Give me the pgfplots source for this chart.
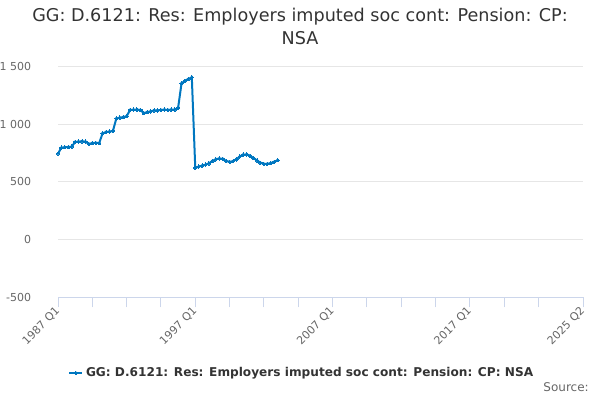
\documentclass[border=0pt]{standalone}
\usepackage{fontspec}
\setmainfont{DejaVu Sans}
\usepackage{pgfplots}
\pgfplotsset{compat=1.18}
\definecolor{lineblue}{RGB}{0,119,192}
\definecolor{gridgray}{HTML}{E6E6E6}
\definecolor{axisblue}{HTML}{CCD6EB}
\definecolor{titlegray}{HTML}{333333}
\definecolor{labelgray}{HTML}{666666}
\begin{document}
\begin{tikzpicture}
\useasboundingbox (0pt,0pt) rectangle (450pt,300pt);
\node[font=\fontsize{13.2pt}{15pt}\selectfont, text=titlegray, anchor=base] at (225pt,283.5pt) {GG: D.6121: Res: Employers imputed soc cont: Pension: CP:};
\node[font=\fontsize{13.2pt}{15pt}\selectfont, text=titlegray, anchor=base] at (225pt,266.25pt) {NSA};
\node[font=\fontsize{9pt}{10pt}\selectfont, text=labelgray, anchor=base east, inner sep=0] at (441.75pt,6.4pt) {Source:};
\begin{axis}[
  at={(43.5pt,77.025pt)}, anchor=south west,
  scale only axis, width=393.75pt, height=173.25pt,
  xmin=1987, xmax=2025.25, ymin=-500, ymax=1500,
  axis x line*=bottom, axis y line*=left,
  x axis line style={draw=axisblue, line width=0.75pt},
  y axis line style={draw=none},
  xtick={1987,1989.5,1992,1994.5,1997,1999.5,2002,2004.5,2007,2009.5,2012,2014.5,2017,2019.5,2022,2025.25},
  xticklabels={1987 Q1,,,,1997 Q1,,,,2007 Q1,,,,2017 Q1,,,2025 Q2},
  ytick={-500,0,500,1000,1500},
  yticklabels={-500,0,500,1 000,1 500},
  ymajorgrids, grid style={draw=gridgray, line width=0.75pt},
  tick align=outside, major tick length=7.5pt,
  xtick style={draw=axisblue, line width=0.75pt},
  ytick style={draw=none},
  xticklabel style={rotate=45, anchor=east, font=\fontsize{8.25pt}{10pt}\selectfont, text=labelgray, inner sep=1pt, yshift=-1pt},
  yticklabel style={anchor=east, font=\fontsize{8.25pt}{10pt}\selectfont, text=labelgray, inner sep=0pt, xshift=-12.5pt},
  legend style={at={(rel axis cs:0.465,-0.328)}, anchor=center, draw=none, fill=none,
    font=\fontsize{9.1pt}{11pt}\selectfont\bfseries, text=titlegray},
  legend image code/.code={\draw[mark repeat=2,mark phase=2,#1] plot coordinates {(0cm,0cm) (0.17cm,0cm) (0.34cm,0cm)};},
]
\addplot[color=lineblue, line width=1.5pt, mark=*, mark size=1.3pt, mark options={line width=0pt}] table[x=x,y=y] {
x y
1987.00 745
1987.25 795
1987.50 800
1987.75 800
1988.00 805
1988.25 845
1988.50 848
1988.75 850
1989.00 848
1989.25 828
1989.50 835
1989.75 838
1990.00 835
1990.25 920
1990.50 930
1990.75 935
1991.00 940
1991.25 1048
1991.50 1055
1991.75 1060
1992.00 1068
1992.25 1122
1992.50 1124
1992.75 1125
1993.00 1122
1993.25 1095
1993.50 1103
1993.75 1110
1994.00 1118
1994.25 1118
1994.50 1122
1994.75 1125
1995.00 1122
1995.25 1125
1995.50 1125
1995.75 1140
1996.00 1352
1996.25 1375
1996.50 1390
1996.75 1404
1997.00 620
1997.25 632
1997.50 640
1997.75 648
1998.00 660
1998.25 680
1998.50 695
1998.75 702
1999.00 698
1999.25 680
1999.50 673
1999.75 678
2000.00 695
2000.25 720
2000.50 735
2000.75 737
2001.00 725
2001.25 705
2001.50 685
2001.75 665
2002.00 655
2002.25 655
2002.50 662
2002.75 672
2003.00 687
};
\addlegendentry{GG: D.6121: Res: Employers imputed soc cont: Pension: CP: NSA}
\end{axis}
\end{tikzpicture}
\end{document}
